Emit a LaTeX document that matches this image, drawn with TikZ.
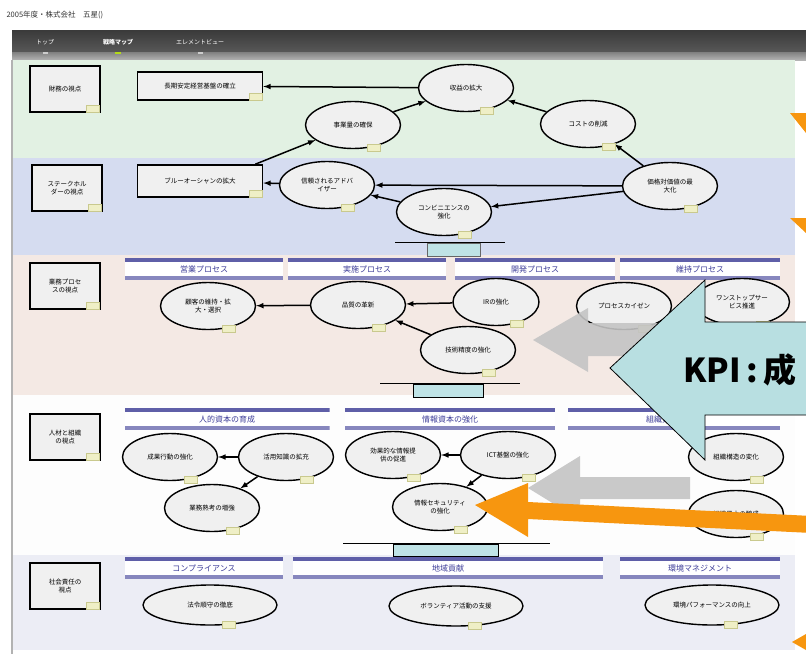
\documentclass[tikz,border=0pt]{standalone}
\usepackage{fontspec}
\setmainfont{Noto Sans CJK JP}
\usetikzlibrary{arrows,shapes.geometric}

\definecolor{finband}{HTML}{E2F1E3}
\definecolor{stkband}{HTML}{D5DCF0}
\definecolor{prcband}{HTML}{F4E9E4}
\definecolor{hrband}{HTML}{FDFDFD}
\definecolor{socband}{HTML}{ECEDF5}
\definecolor{boxgray}{HTML}{F0F0F0}
\definecolor{hdrline}{HTML}{5F5FA8}
\definecolor{hdrtext}{HTML}{3C3C98}
\definecolor{tagfill}{HTML}{EFEFC6}
\definecolor{tagline}{HTML}{C9C98E}
\definecolor{bridgefill}{HTML}{BFE3E6}
\definecolor{calloutfill}{HTML}{B8DFE1}
\definecolor{kpiorange}{HTML}{F7960F}
\definecolor{overgray}{HTML}{C4C4C4}
\definecolor{barDark}{HTML}{3A3A3A}
\definecolor{barLight}{HTML}{808080}

\newcommand\smalltxt{\fontsize{6.5}{8}\selectfont}
\newcommand\hdrtxt{\fontsize{8}{9}\selectfont}

\begin{document}
\begin{tikzpicture}[x=1pt, y=-1pt,
        >=latex,
        persp/.style={draw, line width=1.6pt, fill=boxgray, minimum width=70pt,
            minimum height=46pt, inner sep=1pt, align=center, font=\smalltxt},
        goal/.style={ellipse, draw, line width=1.4pt, fill=boxgray, minimum width=95pt,
            minimum height=47pt, inner sep=1pt, align=center, font=\smalltxt},
        widegoal/.style={goal, minimum width=134pt, minimum height=40pt},
        goalbox/.style={draw, line width=1.6pt, fill=boxgray, minimum width=125pt,
            minimum height=28pt, font=\smalltxt},
        hdr/.style={minimum height=22pt, inner sep=0pt, fill=white, text=hdrtext, font=\hdrtxt,
            path picture={
                \fill[hdrline] (path picture bounding box.north west)
                    rectangle ([yshift=-4pt]path picture bounding box.north east);
                \fill[hdrline!75] (path picture bounding box.south west)
                    rectangle ([yshift=4pt]path picture bounding box.south east);
            }},
        tagbox/.style={draw=tagline, fill=tagfill, minimum width=13pt, minimum height=7pt, inner sep=0pt},
        link/.style={->, line width=1.5pt}]

    \useasboundingbox (0,0) rectangle (806,654);
    \clip (0,0) rectangle (806,654);
    \fill[white] (0,0) rectangle (806,654);

    % title and menu bar
    \node[anchor=west, font=\fontsize{7.5}{9}\selectfont, text=black!80] (title) at (3,15)
        {2005年度・株式会社　五星()};
    \shade[top color=barDark, bottom color=barDark!85] (12,30) rectangle (806,52);
    \shade[top color=barLight, bottom color=barLight!60] (12,52) rectangle (806,60);
    \node[text=white, font=\fontsize{6}{7}\selectfont] (tabTop) at (45,42) {トップ};
    \node[text=white, font=\fontsize{6}{7}\selectfont\bfseries] (tabMap) at (118,42) {戦略マップ};
    \node[text=white, font=\fontsize{6}{7}\selectfont] (tabElem) at (200,42) {エレメントビュー};
    \fill[white!80!black] (43,52) rectangle (48,54);
    \fill[yellow!70!green] (115,52) rectangle (121,54);
    \fill[white!80!black] (198,52) rectangle (203,54);

    % perspective bands
    \fill[finband] (12,60)  rectangle (795,158);
    \fill[stkband] (12,158) rectangle (795,255);
    \fill[prcband] (12,255) rectangle (795,395);
    \fill[hrband]  (12,395) rectangle (795,555);
    \fill[socband] (12,555) rectangle (795,650);
    \draw[black!30, line width=1.5pt] (12,60) -- (12,654);

    % bridges between bands
    \draw[line width=1pt] (395,242) -- (505,242);
    \filldraw[fill=bridgefill, draw=black!60] (427,243) rectangle (480,256);
    \draw[line width=1pt] (380,383) -- (520,383);
    \filldraw[fill=bridgefill, draw=black] (413,384) rectangle (483,397);
    \draw[line width=1pt] (343,543) -- (550,543);
    \filldraw[fill=bridgefill, draw=black] (393,544) rectangle (498,556);

    % perspectives
    \node[persp] (pFin) at (65,89)  {財務の視点};
    \node[persp] (pStk) at (67,188) {ステークホル\\ダーの視点};
    \node[persp] (pPrc) at (65,286) {業務プロセ\\スの視点};
    \node[persp] (pHR)  at (65,437) {人材と組織\\の視点};
    \node[persp] (pSoc) at (65,586) {社会責任の\\視点};

    % theme headers
    \node[hdr, minimum width=158pt] (hSales) at (204,269) {営業プロセス};
    \node[hdr, minimum width=158pt] (hExec)  at (367,269) {実施プロセス};
    \node[hdr, minimum width=160pt] (hDev)   at (535,269) {開発プロセス};
    \node[hdr, minimum width=160pt] (hKeep)  at (700,269) {維持プロセス};
    \node[hdr, minimum width=205pt] (hHuman) at (227,419) {人的資本の育成};
    \node[hdr, minimum width=210pt] (hInfo)  at (450,419) {情報資本の強化};
    \node[hdr, minimum width=212pt] (hOrg)   at (674,419) {組織資本の強化};
    \node[hdr, minimum width=158pt] (hComp)  at (204,568) {コンプライアンス};
    \node[hdr, minimum width=310pt] (hLocal) at (448,568) {地域貢献};
    \node[hdr, minimum width=160pt] (hEnv)   at (700,568) {環境マネジメント};

    % financial
    \node[goalbox] (base) at (200,86)  {長期安定経営基盤の確立};
    \node[goal]    (rev)  at (466,88)  {収益の拡大};
    \node[goal]    (vol)  at (353,125) {事業量の確保};
    \node[goal]    (cost) at (588,124) {コストの削減};

    % stakeholder
    \node[goalbox, minimum height=32pt] (blue) at (200,181) {ブルーオーシャンの拡大};
    \node[goal] (trust) at (327,185) {信頼されるアドバ\\イザー};
    \node[goal] (conv)  at (444,212) {コンビニエンスの\\強化};
    \node[goal] (price) at (670,186) {価格対価値の最\\大化};

    % internal process
    \node[goal] (cust)    at (208,306) {顧客の維持・拡\\大・選択};
    \node[goal] (qual)    at (358,305) {品質の革新};
    \node[goal, minimum width=86pt] (ir) at (496,302) {IRの強化};
    \node[goal] (kaizen)  at (624,306) {プロセスカイゼン};
    \node[goal] (onestop) at (742,302) {ワンストップサー\\ビス推進};
    \node[goal] (tech)    at (468,350) {技術精度の強化};

    % learning and growth
    \node[goal] (act)   at (170,457) {成果行動の強化};
    \node[goal] (know)  at (286,457) {活用知識の拡充};
    \node[goal] (skill) at (212,508) {業務熟考の増強};
    \node[goal] (info)  at (393,455) {効果的な情報提\\供の促進};
    \node[goal] (ict)   at (508,455) {ICT基盤の強化};
    \node[goal] (sec)   at (440,507) {情報セキュリティ\\の強化};
    \node[goal] (org)   at (736,457) {組織構造の変化};
    \node[goal] (cult)  at (736,514) {組織風土の醸成};

    % social responsibility
    \node[widegoal] (law)    at (210,605) {法令順守の徹底};
    \node[widegoal] (volun)  at (456,606) {ボランティア活動の支援};
    \node[widegoal] (envp)   at (712,605) {環境パフォーマンスの向上};

    \path[link] (rev) edge (base)
                (vol) edge (rev)
                (cost) edge (rev)
                (price) edge (cost)
                ([xshift=-8pt]blue.north east) edge (vol)
                (price) edge (trust)
                (price) edge (conv)
                (conv) edge (trust)
                (trust) edge (blue)
                (qual) edge (cust)
                (ir) edge (qual)
                (tech) edge (qual)
                (know) edge (act)
                (know) edge (skill)
                (ict) edge (info)
                (ict) edge (sec);

    % small marks on every element
    \foreach \n in {pFin,pStk,pPrc,pHR,pSoc,base,blue}
        \node[tagbox] (tg-\n) at ([xshift=-8pt,yshift=4pt]\n.south east) {};
    \foreach \n in {rev,vol,cost,trust,conv,price,cust,qual,ir,kaizen,onestop,tech,
                    act,know,skill,info,ict,sec,org,cult,law,volun,envp}
        \node[tagbox] (tg-\n) at ([xshift=2pt]\n.-50) {};

    % slide overlay
    \fill[overgray, opacity=0.9] (533,340) -- (588,308) -- (588,323) -- (705,323)
        -- (705,356) -- (588,356) -- (588,372) -- cycle;
    \fill[overgray, opacity=0.9] (528,488) -- (580,456) -- (580,477) -- (690,477)
        -- (690,499) -- (580,499) -- (580,520) -- cycle;
    \filldraw[fill=calloutfill, draw=black, line width=0.8pt] (610,368) -- (705,280)
        -- (705,322) -- (830,322) -- (830,415) -- (705,415) -- (705,460) -- cycle;
    \node[anchor=west, font=\fontsize{33}{36}\selectfont\bfseries, inner sep=0pt] (kpi)
        at (683,370) {KPI\,:\,成};
    \fill[kpiorange] (812,516) -- (528,502) -- (528,483) -- (475,505) -- (528,537)
        -- (528,519) -- (812,533) -- cycle;
    \fill[kpiorange] (790,113) -- (806,113) -- (806,133) -- cycle;
    \fill[kpiorange] (790,218) -- (806,218) -- (806,233) -- cycle;
    \fill[kpiorange] (792,642) -- (806,634) -- (806,650) -- cycle;
\end{tikzpicture}
\end{document}
